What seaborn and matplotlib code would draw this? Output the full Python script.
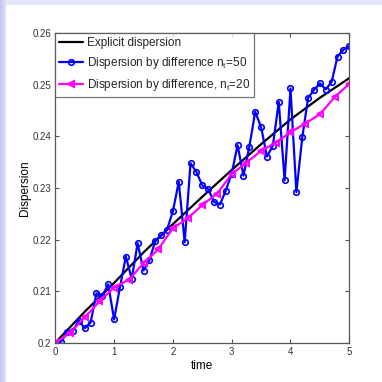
import numpy as np
import pandas as pd
import matplotlib
matplotlib.use("Agg")
import matplotlib.pyplot as plt
import seaborn as sns

# ---- data ----
t_explicit = [0.0, 0.5, 1.0, 1.5, 2.0, 2.5, 3.0, 3.5, 4.0, 4.5, 5.0]
d_explicit = [0.2000, 0.2060, 0.2116, 0.2175, 0.2230, 0.2283, 0.2335, 0.2385, 0.2433, 0.2475, 0.2513]

t_50 = [0.0, 0.1, 0.2, 0.3, 0.4, 0.5, 0.6, 0.7, 0.8, 0.9, 1.0,
        1.1, 1.2, 1.3, 1.4, 1.5, 1.6, 1.7, 1.8, 1.9, 2.0,
        2.1, 2.2, 2.3, 2.4, 2.5, 2.6, 2.7, 2.8, 2.9, 3.0,
        3.1, 3.2, 3.3, 3.4, 3.5, 3.6, 3.7, 3.8, 3.9, 4.0,
        4.1, 4.2, 4.3, 4.4, 4.5, 4.6, 4.7, 4.8, 4.9, 5.0]
d_50 = [0.2000, 0.2002, 0.2020, 0.2023, 0.2043, 0.2028, 0.2039, 0.2096, 0.2091, 0.2113, 0.2045,
        0.2108, 0.2167, 0.2124, 0.2193, 0.2140, 0.2160, 0.2197, 0.2208, 0.2219, 0.2255,
        0.2312, 0.2195, 0.2348, 0.2331, 0.2305, 0.2298, 0.2273, 0.2268, 0.2295, 0.2328,
        0.2383, 0.2324, 0.2380, 0.2448, 0.2418, 0.2361, 0.2382, 0.2467, 0.2315, 0.2493,
        0.2292, 0.2398, 0.2475, 0.2490, 0.2503, 0.2491, 0.2506, 0.2555, 0.2568, 0.2575]

t_20 = [0.0, 0.25, 0.5, 0.75, 1.0, 1.25, 1.5, 1.75, 2.0, 2.25, 2.5,
        2.75, 3.0, 3.25, 3.5, 3.75, 4.0, 4.25, 4.5, 4.75, 5.0]
d_20 = [0.2000, 0.2019, 0.2049, 0.2080, 0.2107, 0.2122, 0.2154, 0.2181, 0.2222, 0.2241, 0.2267,
        0.2289, 0.2327, 0.2349, 0.2372, 0.2388, 0.2408, 0.2425, 0.2443, 0.2476, 0.2502]

labels = ["Explicit dispersion",
          r"Dispersion by difference n$_{\mathrm{t}}$=50",
          r"Dispersion by difference, n$_{\mathrm{t}}$=20"]
x_ticks = [0, 1, 2, 3, 4, 5]
x_ticklabels = ["0", "1", "2", "3", "4", "5"]
y_ticks = [0.20, 0.21, 0.22, 0.23, 0.24, 0.25, 0.26]
y_ticklabels = ["0.2", "0.21", "0.22", "0.23", "0.24", "0.25", "0.26"]

sns.set_style("white")
plt.rcParams["font.family"] = ["Liberation Sans", "DejaVu Sans"]
plt.rcParams["mathtext.fontset"] = "custom"
plt.rcParams["mathtext.rm"] = "Liberation Sans"
plt.rcParams["mathtext.it"] = "Liberation Sans:italic"

fig = plt.figure(figsize=(3.82, 3.82), dpi=100)
fig.patch.set_facecolor("#E6E6FA")

# white panel and left gradient strip
bg = fig.add_axes([6 / 382, 0, 1 - 6 / 382, 1 - 5 / 382])
bg.set_facecolor("white")
bg.set_xticks([]); bg.set_yticks([])
for s in bg.spines.values():
    s.set_visible(False)
strip = fig.add_axes([0, 0, 6 / 382, 1])
grad = np.linspace(0, 1, 50).reshape(1, -1)
strip.imshow(grad, aspect="auto", cmap=matplotlib.colors.LinearSegmentedColormap.from_list(
    "g", ["#C4C4F2", "#E2E2FA"]))
strip.axis("off")

ax = fig.add_axes([55.3 / 382, 1 - 342.7 / 382, 294 / 382, 309.4 / 382])
ax.set_facecolor("white")

df_e = pd.DataFrame({"t": t_explicit, "d": d_explicit})
df_50 = pd.DataFrame({"t": t_50, "d": d_50})
df_20 = pd.DataFrame({"t": t_20, "d": d_20})

sns.lineplot(data=df_e, x="t", y="d", ax=ax, color="black", linewidth=1.6,
             label=labels[0], sort=False)
sns.lineplot(data=df_50, x="t", y="d", ax=ax, color="#0000FF", linewidth=1.6,
             marker="o", markersize=4, markerfacecolor="none",
             markeredgecolor="#0000FF", markeredgewidth=1.2,
             label=labels[1], sort=False)
sns.lineplot(data=df_20, x="t", y="d", ax=ax, color="#FF00FF", linewidth=1.6,
             marker="<", markersize=5, markerfacecolor="none",
             markeredgecolor="#FF00FF", markeredgewidth=1.4,
             label=labels[2], sort=False)

ax.set_xlim(0, 5)
ax.set_ylim(0.20, 0.26)
ax.set_xticks(x_ticks)
ax.set_xticklabels(x_ticklabels)
ax.set_yticks(y_ticks)
ax.set_yticklabels(y_ticklabels)
ax.tick_params(direction="in", length=3, width=0.8, colors="#555555",
               labelcolor="#333333", labelsize=7, top=True, right=True,
               bottom=True, left=True, pad=3)
for s in ax.spines.values():
    s.set_visible(True)
    s.set_color("#555555")
    s.set_linewidth(0.9)

ax.set_xlabel("time", fontsize=8.5, color="black", labelpad=2)
ax.set_ylabel("Dispersion", fontsize=8.5, color="black", labelpad=1)

leg = ax.legend(loc="upper left", borderaxespad=0, fontsize=8.5, frameon=True,
                fancybox=False, edgecolor="#555555", handlelength=2.0,
                handletextpad=0.3, labelspacing=0.5, borderpad=0.35)
leg.get_frame().set_linewidth(0.9)

fig.savefig("out.png", dpi=100, facecolor=fig.get_facecolor())
